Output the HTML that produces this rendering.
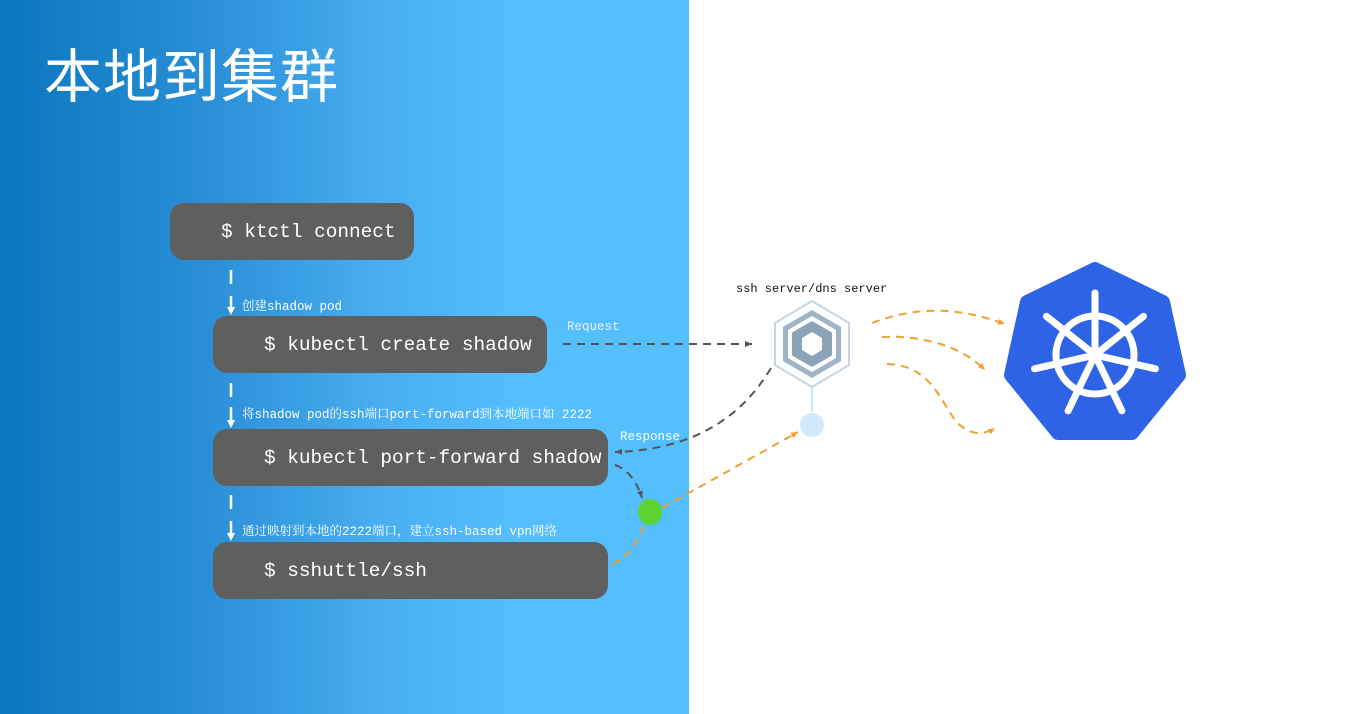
<!DOCTYPE html>
<html><head><meta charset="utf-8"><style>
html,body{margin:0;padding:0;width:1370px;height:714px;overflow:hidden;background:#fff;font-family:"Liberation Serif","Noto Serif CJK SC",serif}
.panel{position:absolute;left:0;top:0;width:689px;height:714px;background:linear-gradient(90deg,#0a76be 0%,#2a8fd6 30%,#48aef0 55%,#55befd 75%,#55befd 100%)}
.title{position:absolute;left:44px;top:30px;color:#fff;font:58px "Liberation Sans","Noto Sans CJK SC",sans-serif;letter-spacing:1px}
.box{position:absolute;background:#5f5f5f;border-radius:14px;color:#fff;font-family:"Liberation Mono","Noto Sans CJK SC",monospace;font-size:19.4px;line-height:59px;height:57px;box-sizing:border-box;white-space:nowrap}
.lbl{position:absolute;color:#fff;font-size:12.5px;font-family:"Liberation Mono","Noto Serif CJK SC",monospace;white-space:nowrap}
</style></head><body>
<div class="panel"></div>
<div class="title">本地到集群</div>
<div class="box" style="left:170px;top:203px;width:244px;padding-left:51px">$ ktctl connect</div>
<div class="box" style="left:213px;top:316px;width:334px;padding-left:51px">$ kubectl create shadow</div>
<div class="box" style="left:213px;top:429px;width:395px;padding-left:51px">$ kubectl port-forward shadow</div>
<div class="box" style="left:213px;top:542px;width:395px;padding-left:51px">$ sshuttle/ssh</div>
<div class="lbl" style="left:242px;top:296px">创建shadow pod</div>
<div class="lbl" style="left:242px;top:404px">将shadow pod的ssh端口port-forward到本地端口如 2222</div>
<div class="lbl" style="left:242px;top:521px">通过映射到本地的2222端口，建立ssh-based vpn网络</div>
<div class="lbl" style="left:567px;top:320px;color:#e8f4ff">Request</div>
<div class="lbl" style="left:620px;top:430px;color:#fff">Response</div>
<div class="lbl" style="left:736px;top:282px;color:#111;font-size:12px">ssh server/dns server</div>
<svg width="1370" height="714" style="position:absolute;left:0;top:0">
<defs>
<marker id="ag" markerWidth="8" markerHeight="8" refX="7" refY="4" orient="auto" markerUnits="userSpaceOnUse"><path d="M0,1 L7,4 L0,7z" fill="#555"/></marker>
<marker id="ao" markerWidth="8" markerHeight="8" refX="7" refY="4" orient="auto" markerUnits="userSpaceOnUse"><path d="M0,1 L7,4 L0,7z" fill="#f0a030"/></marker>
</defs>
<g stroke="#fff" stroke-width="2.5">
<line x1="231" y1="270" x2="231" y2="284"/><line x1="231" y1="296" x2="231" y2="308"/>
<line x1="231" y1="383" x2="231" y2="397"/><line x1="231" y1="407" x2="231" y2="421"/>
<line x1="231" y1="495" x2="231" y2="509"/><line x1="231" y1="521" x2="231" y2="534"/>
</g>
<g fill="#fff">
<path d="M227,307 L235,307 L231,315z"/><path d="M227,420 L235,420 L231,428z"/><path d="M227,533 L235,533 L231,541z"/>
</g>
<g fill="none" stroke="#555" stroke-width="2" stroke-dasharray="8,6">
<line x1="563" y1="344" x2="752" y2="344" marker-end="url(#ag)"/>
<path d="M771,368 C740,420 690,450 615,452" marker-end="url(#ag)"/>
<path d="M615,465 C630,470 638,485 642,498" marker-end="url(#ag)"/>
</g>
<g fill="none" stroke="#f0a030" stroke-width="2" stroke-dasharray="8,6">
<path d="M662,508 L798,432" marker-end="url(#ao)"/>
<path d="M613,564 C630,555 640,540 645,522"/>
<path d="M872,323 C920,305 960,308 1005,324" marker-end="url(#ao)"/>
<path d="M882,337 C920,335 960,345 985,370" marker-end="url(#ao)"/>
<path d="M887,364 C930,365 940,400 955,420 C965,432 980,438 995,428" marker-end="url(#ao)"/>
</g>
<ellipse cx="650" cy="512" rx="12" ry="13" fill="#5ed232"/>
<line x1="812" y1="386" x2="812" y2="412" stroke="#cde4f5" stroke-width="2"/>
<circle cx="812" cy="425" r="12" fill="#d3eafc"/>
<g transform="translate(812,344)">
<polygon points="0,-43 37,-21 37,21 0,43 -37,21 -37,-21" fill="#fff" stroke="#c5d6e2" stroke-width="2"/>
<polygon points="0,-34 29,-17 29,17 0,34 -29,17 -29,-17" fill="#9fb4c6"/>
<polygon points="0,-28 24,-14 24,14 0,28 -24,14 -24,-14" fill="#fff"/>
<polygon points="0,-23 20,-11.5 20,11.5 0,23 -20,11.5 -20,-11.5" fill="#8ca4b8"/>
<polygon points="0,-12 10,-6 10,6 0,12 -10,6 -10,-6" fill="#fff"/>
</g>
<g transform="translate(1095,355)">
<polygon points="0,-86 68,-53 84,20 37,78 -37,78 -84,20 -68,-53" fill="#2f63e6" stroke="#2f63e6" stroke-width="14" stroke-linejoin="round"/>
<g stroke="#fff" stroke-width="7" fill="none" stroke-linecap="round">
<circle r="39"/>
<line x1="0" y1="-8" x2="0" y2="-62" transform="rotate(0)"/>
<line x1="0" y1="-8" x2="0" y2="-62" transform="rotate(51.43)"/>
<line x1="0" y1="-8" x2="0" y2="-62" transform="rotate(102.86)"/>
<line x1="0" y1="-8" x2="0" y2="-62" transform="rotate(154.29)"/>
<line x1="0" y1="-8" x2="0" y2="-62" transform="rotate(205.71)"/>
<line x1="0" y1="-8" x2="0" y2="-62" transform="rotate(257.14)"/>
<line x1="0" y1="-8" x2="0" y2="-62" transform="rotate(308.57)"/>
</g>
<circle r="7" fill="#fff"/>
</g>
</svg>
</body></html>
